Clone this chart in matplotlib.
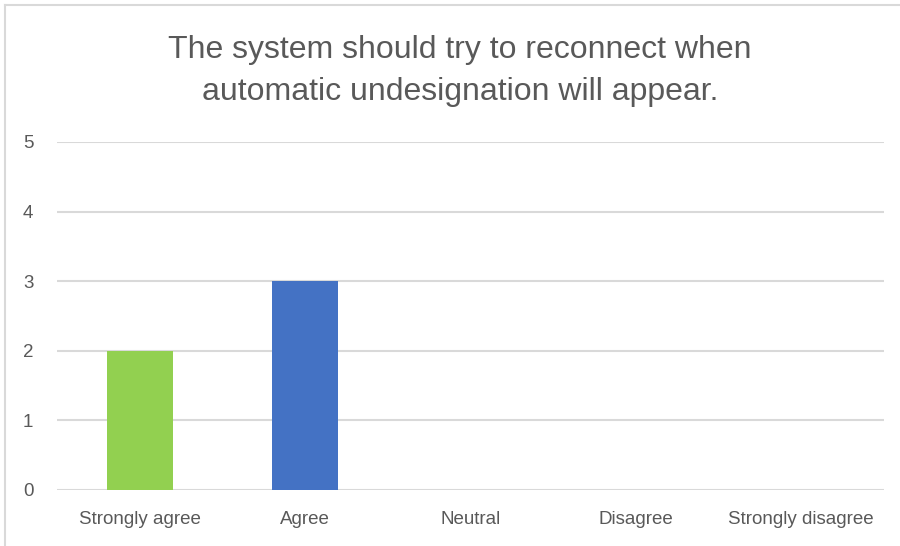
import numpy as np
import matplotlib.pyplot as plt
from matplotlib.lines import Line2D

categories = ['Strongly agree', 'Agree', 'Neutral', 'Disagree', 'Strongly disagree']
counts = [2, 3, 0, 0, 0]
colors = ['#92D050', '#4472C4', '#4472C4', '#4472C4', '#4472C4']
title = 'The system should try to reconnect when\nautomatic undesignation will appear.'

plt.rcParams['font.family'] = ['Liberation Sans', 'DejaVu Sans']

fig = plt.figure(figsize=(9, 5.46), dpi=100)
ax = fig.add_axes([0.0633, 0.1026, 0.9189, 0.6374])

x = np.arange(len(categories))
ax.bar(x, counts, width=0.4, color=colors, zorder=3)
ax.set_xlim(-0.5, len(categories) - 0.5)
ax.set_ylim(0, 5)
ax.set_yticks(range(6))
ax.set_xticks(x)
ax.set_xticklabels(categories)
ax.yaxis.grid(True, color='#D9D9D9', linewidth=1.5, zorder=0)
ax.set_axisbelow(True)
for s in ax.spines.values():
    s.set_visible(False)
ax.tick_params(length=0, colors='#595959', labelsize=13.5)
ax.tick_params(axis='y', pad=17)
ax.tick_params(axis='x', pad=15)

fig.text(0.511, 0.87, title, ha='center', va='center', fontsize=23,
         color='#595959', linespacing=1.55)

# outer chart border (top and left edges visible)
fig.add_artist(Line2D([5/900, 1], [1 - 5/546, 1 - 5/546], color='#D9D9D9', linewidth=1.5))
fig.add_artist(Line2D([5/900, 5/900], [0, 1 - 5/546], color='#D9D9D9', linewidth=1.5))

plt.savefig('out.png', dpi=100)
